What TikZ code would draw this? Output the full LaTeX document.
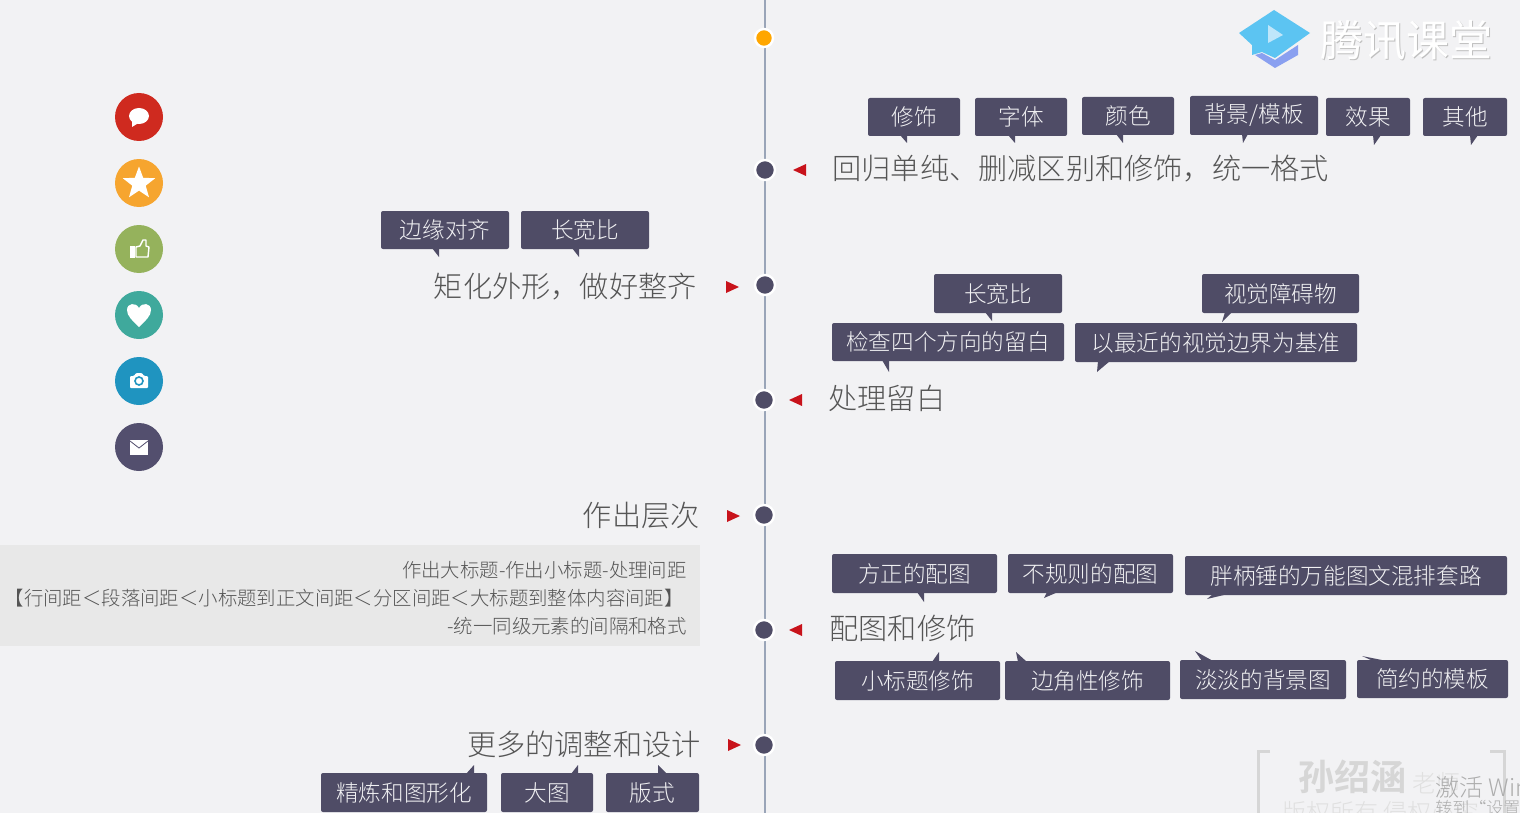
\documentclass[tikz,border=0pt]{standalone}
\usepackage{fontspec}
\setmainfont{Noto Sans CJK SC Light}[BoldFont=Noto Sans CJK SC Bold]
\newfontfamily\logofont{Noto Sans CJK SC}
\usetikzlibrary{shapes.geometric}
\definecolor{pagebg}{HTML}{F2F2F4}
\definecolor{tagfill}{HTML}{4F4C66}
\definecolor{headtxt}{HTML}{555555}
\definecolor{linegray}{HTML}{9AA5B8}
\definecolor{mkred}{HTML}{C8131B}
\definecolor{markgray}{HTML}{D6D6D6}
\definecolor{iconblue}{HTML}{1F94C0}
\definecolor{icondark}{HTML}{534F6E}
\definecolor{logoblue}{HTML}{5CC4F2}
\definecolor{logopurple}{HTML}{8AA0F0}
\definecolor{logoplay}{HTML}{BFE6FA}
\tikzset{
	tag/.style={rectangle,fill=tagfill,text=white!92!tagfill,rounded corners=1pt,inner sep=0pt,font=\fontsize{11.3}{13}\selectfont},
	head/.style={text=headtxt,inner sep=0pt,font=\fontsize{14.6}{17}\selectfont},
	note/.style={text=headtxt,inner sep=0pt,anchor=east,font=\fontsize{9.7}{12}\selectfont},
	dotmark/.style={circle,fill=tagfill,draw=white,line width=1.2pt,minimum size=10pt,inner sep=0pt},
	iconbase/.style={circle,minimum size=24pt,inner sep=0pt}
}
\begin{document}
\begin{tikzpicture}[x=0.5pt,y=-0.5pt]
	\path[use as bounding box,fill=pagebg] (0,0) rectangle (1520,813);
	\clip (0,0) rectangle (1520,813);
	\path
	(765,0) coordinate (LT)
	(765,813) coordinate (LB);
	% grey panel
	\fill[black!9] (0,545) rectangle (700,646);
	\node[note] (n1) at (687,570) {作出大标题-作出小标题-处理间距};
	\node[note] (n2) at (684,598) {【行间距＜段落间距＜小标题到正文间距＜分区间距＜大标题到整体内容间距】};
	\node[note] (n3) at (687,626) {-统一同级元素的间隔和格式};
	% time line
	\draw[linegray,line width=0.7pt] (LT)--(LB);
	\node[circle,fill=orange!70!yellow,draw=white,line width=1.2pt,minimum size=9pt,inner sep=0pt] (D0) at (764,38) {};
	\foreach \p/\x/\y in{D1/765/170,D2/765/285,D3/764/400,D4/764/515,D5/764/630,D6/764/745}
	\node[dotmark] (\p) at (\x,\y) {};
	\foreach \x/\y/\s in{806/170/-1,726/287/1,802/400/-1,727/516/1,802/630/-1,728/745/1}
	\fill[mkred] (\x,\y-6)--(\x+\s*13,\y)--(\x,\y+6)--cycle;
	% headings
	\node[head,anchor=west] (H1) at (832,169) {回归单纯、删减区别和修饰，统一格式};
	\node[head,anchor=east] (H2) at (697,287) {矩化外形，做好整齐};
	\node[head,anchor=west] (H3) at (828,398) {处理留白};
	\node[head,anchor=east] (H4) at (700,516) {作出层次};
	\node[head,anchor=west] (H5) at (829,628) {配图和修饰};
	\node[head,anchor=east] (H6) at (701,744) {更多的调整和设计};
	% tags: centre/size/side/tail base/tip/text
	\foreach \x/\y/\w/\h/\s/\u/\v/\a/\b/\t [count=\i] in{
		914/117/92/38/1/900/907/907/143/修饰,
		1021/117/92/38/1/1008/1015/1015/143/字体,
		1128/116/92/38/1/1116/1123/1123/143/颜色,
		1254/115.5/128/39/1/1242/1248/1243/143/{背景/模板},
		1368/117/84/38/1/1373/1381/1374/145/效果,
		1465/117/84/38/1/1470/1478/1471/145/其他,
		445/230/128/38/1/432/439/439/257/边缘对齐,
		585/230/128/38/1/572/579/579/257/长宽比,
		998/293.5/128/39/1/985/992/992/321/长宽比,
		1280.5/293.5/157/39/1/1225/1232/1222/322/视觉障碍物,
		948/342/232/38/1/882/889/889/372/检查四个方向的留白,
		1216/342.5/282/39/1/1098/1110/1097/372/以最近的视觉边界为基准,
		914.5/573.5/165/39/1/917/924/924/602/方正的配图,
		1090.5/573.5/165/39/1/1047/1058/1044/598/不规则的配图,
		1346/575.5/322/39/1/1213/1228/1207/599/胖柄锤的万能图文混排套路,
		917.5/680.5/165/39/-1/932/939/939/652/小标题修饰,
		1087.5/680.5/165/39/-1/1018/1027/1016/652/边角性修饰,
		1263/679.5/166/39/-1/1202/1213/1195/651/淡淡的背景图,
		1432.5/679/151/38/-1/1373/1387/1362/656/简约的模板,
		404/792.5/166/39/-1/466/474/474/765/精炼和图形化,
		547/792.5/92/39/-1/571/578/578/765/大图,
		652.5/792.5/93/39/-1/658/667/658/765/版式}
	{\node[tag,minimum width=\w*0.5pt,minimum height=\h*0.5pt] (T\i) at (\x,\y) {\t};
	\fill[tagfill] (\u,\y+\s*\h/2-\s)--(\a,\b)--(\v,\y+\s*\h/2-\s)--cycle;}
	% icons
	\foreach \p/\y/\c in{I1/117/CF2A1F,I2/183/F6A52F,I3/249/95B25C,I4/315/3FA99C,I5/381/1F94C0,I6/447/534F6E}
	{\definecolor{iconc}{HTML}{\c}
	\node[iconbase,fill=iconc] (\p) at (139,\y) {};}
	\fill[white] (139,116) ellipse (10 and 8);
	\fill[white] (132,120)--(132,127)--(140,122)--cycle;
	\node[star,star points=5,star point ratio=2.4,fill=white,minimum size=17pt,inner sep=0pt] (S2) at (139,183.5) {};
	\fill[white] (130,246) rectangle (135,258);
	\draw[white,line width=0.7pt,line join=round] (136,247)--(140,246)--(143,240)--(146,240)--(146,246)--(149,247)--(148,257)--(136,257)--cycle;
	\fill[white] (139,327)..controls (132,320) and (127,316) .. (127,310)..controls (127,303) and (136,302) .. (139,308)..controls (142,302) and (151,303) .. (151,310)..controls (151,316) and (146,320) .. (139,327)--cycle;
	\fill[white,rounded corners=0.5pt] (130,376)--(134,376)--(136,373)--(142,373)--(144,376)--(148,376)--(148,388)--(130,388)--cycle;
	\draw[iconblue,line width=0.8pt] (139,381) circle (4);
	\fill[white] (130,440) rectangle (148,455);
	\draw[icondark] (130,441)--(139,448)--(148,441);
	% logo
	\fill[logoblue] (1239,33)--(1274,10)--(1310,33)--(1275,58)--(1262,52)--(1252,55)--(1252,45)--cycle;
	\fill[logopurple] (1255,55)--(1262,53)--(1275,60)--(1298,45)--(1298,55)--(1275,68)--cycle;
	\fill[logoplay] (1268,25)--(1283,35)--(1268,43)--cycle;
	\node[text=black!25,inner sep=0pt,anchor=west,font=\logofont\fontsize{21.5}{24}\selectfont] (LS) at (1321,41.5) {腾讯课堂};
	\node[text=white,inner sep=0pt,anchor=west,font=\logofont\fontsize{21.5}{24}\selectfont] (LG) at (1320,40) {腾讯课堂};
	% watermark
	\draw[markgray,line width=1.5pt] (1270,751)--(1258,751)--(1258,813);
	\draw[markgray,line width=1.5pt] (1490,751)--(1504,751)--(1504,813);
	\node[text=markgray,inner sep=0pt,anchor=west,font=\bfseries\fontsize{18}{20}\selectfont] (W1) at (1298,777) {孙绍涵};
	\node[text=black!12,inner sep=0pt,anchor=west,font=\fontsize{12}{14}\selectfont] (W2) at (1412,783) {老师};
	\node[text=black!12,inner sep=0pt,anchor=west,font=\fontsize{12}{14}\selectfont] (W3) at (1282,812) {版权所有 侵权必究};
	\node[text=black!32,inner sep=0pt,anchor=west,font=\fontsize{12}{14}\selectfont] (W4) at (1435,787) {激活 Windows};
	\node[text=black!32,inner sep=0pt,anchor=west,font=\fontsize{8.5}{10}\selectfont] (W5) at (1435,808) {转到“设置”以激活 Windows};
\end{tikzpicture}
\end{document}
